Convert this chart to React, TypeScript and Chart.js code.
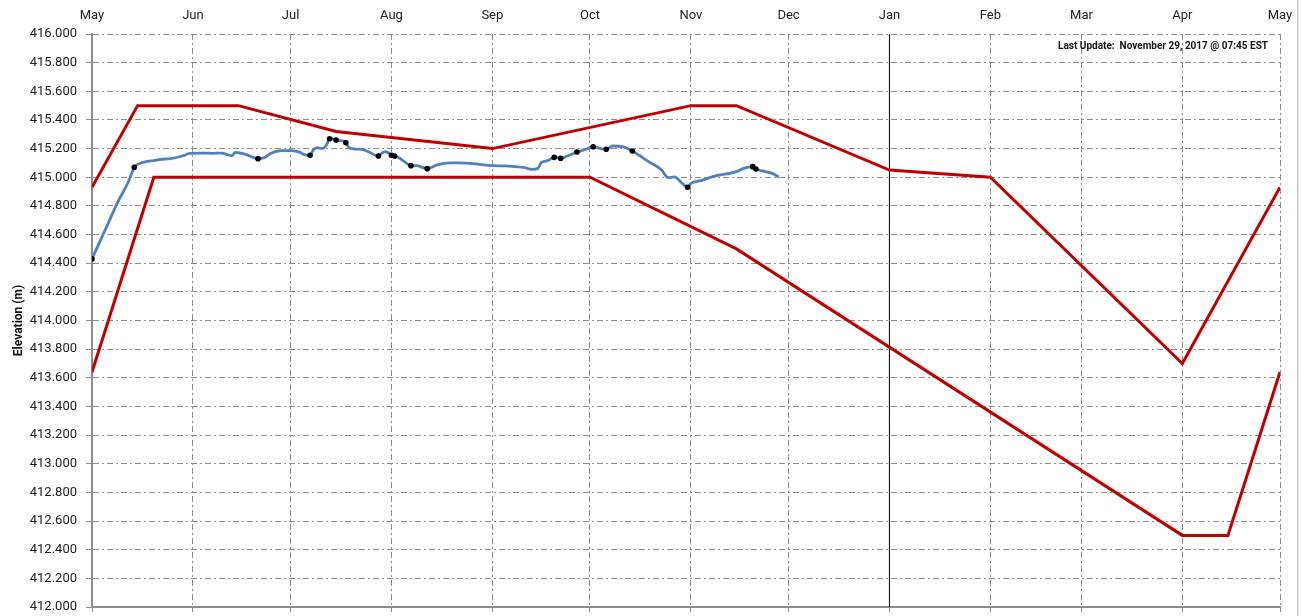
import React, { useEffect, useRef } from 'react';
import { Chart, registerables } from 'chart.js';

Chart.register(...registerables);

// Days counted from May 1, 2017
const monthTickDays = [0, 31, 61, 92, 123, 153, 184, 214, 245, 276, 304, 335, 365];
const monthTickLabels = ['May', 'Jun', 'Jul', 'Aug', 'Sep', 'Oct', 'Nov', 'Dec', 'Jan', 'Feb', 'Mar', 'Apr', 'May'];

const upperRuleDays = [0, 14, 45, 75, 123, 184, 198, 245, 276, 335, 365];
const upperRuleValues = [414.93, 415.5, 415.5, 415.32, 415.2, 415.5, 415.5, 415.05, 415.0, 413.7, 414.93];

const lowerRuleDays = [0, 19, 153, 198, 335, 349, 365];
const lowerRuleValues = [413.64, 415.0, 415.0, 414.5, 412.5, 412.5, 413.64];

const levelDays = [
  0, 4, 8, 11, 13, 14, 17, 19, 21, 24, 28, 30, 34, 37, 40, 41, 43, 44, 47, 49,
  51, 53, 55, 58, 61, 64, 65, 67, 68, 69, 71, 72, 73, 74, 75, 77, 78, 79, 81, 83,
  85, 88, 89, 90, 91, 92, 93, 94, 96, 98, 100, 101, 103, 106, 110, 113, 116, 119, 123, 127,
  130, 133, 135, 137, 138, 140, 142, 144, 146, 149, 152, 154, 156, 158, 160, 163, 166, 168, 171, 175,
  177, 179, 181, 183, 184, 187, 190, 193, 196, 198, 200, 203, 204, 206, 209, 211,
];
const levelValues = [
  414.43, 414.63, 414.83, 414.96, 415.07, 415.09, 415.11, 415.116, 415.125, 415.13,
  415.15, 415.167, 415.169, 415.167, 415.169, 415.162, 415.15, 415.174, 415.162, 415.143,
  415.13, 415.137, 415.167, 415.186, 415.186, 415.174, 415.16, 415.153, 415.19, 415.206,
  415.202, 415.225, 415.269, 415.267, 415.26, 415.253, 415.241, 415.206, 415.197, 415.195,
  415.178, 415.148, 415.167, 415.178, 415.171, 415.153, 415.148, 415.139, 415.109, 415.081,
  415.081, 415.072, 415.06, 415.086, 415.1, 415.1, 415.097, 415.09, 415.081, 415.079,
  415.074, 415.067, 415.055, 415.062, 415.102, 415.116, 415.139, 415.132, 415.148, 415.176,
  415.197, 415.213, 415.202, 415.195, 415.218, 415.213, 415.183, 415.155, 415.109, 415.051,
  414.997, 415.002, 414.965, 414.93, 414.957, 414.976, 414.999, 415.016, 415.027, 415.039,
  415.06, 415.074, 415.058, 415.044, 415.027, 415.002,
];
const markerDays = [0, 13, 51, 67, 73, 75, 78, 88, 92, 93, 98, 103, 142, 144, 149, 154, 158, 166, 183, 203, 204];

const yearMarkDay = 245;
const yMin = 412;
const yMax = 416;
const yStep = 0.2;
const yTitle = 'Elevation (m)';
const lastUpdateText = 'Last Update:  November 29, 2017 @ 07:45 EST';

const FONT = 'Roboto, "Noto Sans", sans-serif';
const GRID = '#8c8c8c';
const DASH = [6, 3, 2, 3];

export default function App() {
  const ref = useRef<HTMLCanvasElement>(null);

  useEffect(() => {
    if (!ref.current) return;
    const setMonthTicks = (scale: any) => {
      scale.ticks = monthTickDays.map((v) => ({ value: v }));
    };
    const noOverflow = (s: any) => {
      s.paddingLeft = 0;
      s.paddingRight = 0;
      s.paddingTop = 0;
      s.paddingBottom = 0;
    };
    const overlay = {
      id: 'overlay',
      afterDraw(chart: any) {
        const { ctx, chartArea } = chart;
        ctx.save();
        ctx.font = `bold 10px ${FONT}`;
        ctx.fillStyle = '#111';
        ctx.textAlign = 'right';
        ctx.textBaseline = 'middle';
        ctx.fillText(lastUpdateText, chartArea.right - 12, chartArea.top + 12);
        ctx.fillStyle = '#c8c8c8';
        ctx.fillRect(1297, 0, 1.5, chart.height);
        ctx.restore();
      },
    };
    const chart = new Chart(ref.current, {
      type: 'line',
      data: {
        datasets: [
          {
            label: 'Year',
            data: [{ x: yearMarkDay, y: yMin }, { x: yearMarkDay, y: yMax }],
            borderColor: '#000',
            borderWidth: 1,
            pointRadius: 0,
            order: 5,
          },
          {
            label: 'Upper',
            data: upperRuleDays.map((d, i) => ({ x: d, y: upperRuleValues[i] })),
            borderColor: '#C00000',
            borderWidth: 3,
            pointRadius: 0,
            order: 3,
          },
          {
            label: 'Lower',
            data: lowerRuleDays.map((d, i) => ({ x: d, y: lowerRuleValues[i] })),
            borderColor: '#C00000',
            borderWidth: 3,
            pointRadius: 0,
            order: 3,
          },
          {
            label: 'Level',
            data: levelDays.map((d, i) => ({ x: d, y: levelValues[i] })),
            borderColor: '#4F81BD',
            borderWidth: 2.8,
            cubicInterpolationMode: 'monotone',
            pointRadius: (c: any) => (markerDays.includes(levelDays[c.dataIndex]) ? 2.8 : 0),
            pointBackgroundColor: '#000',
            pointBorderColor: '#000',
            pointBorderWidth: 0,
            order: 1,
          },
        ],
      },
      options: {
        animation: false,
        responsive: false,
        maintainAspectRatio: false,
        parsing: true,
        layout: { padding: { left: 0, right: 21, top: 0, bottom: 0 } },
        plugins: { legend: { display: false }, tooltip: { enabled: false } },
        scales: {
          x: {
            type: 'linear',
            position: 'top',
            min: 0,
            max: 365,
            afterBuildTicks: setMonthTicks,
            afterFit: (s: any) => { s.height = 34; noOverflow(s); },
            ticks: {
              autoSkip: false,
              maxRotation: 0,
              padding: 10,
              color: '#222',
              font: { family: FONT, size: 13 },
              callback: (_v: any, i: number) => monthTickLabels[i],
            },
            grid: { color: GRID, lineWidth: 1, drawTicks: false },
            border: { display: false, dash: DASH },
          },
          x2: {
            type: 'linear',
            position: 'bottom',
            min: 0,
            max: 365,
            afterBuildTicks: setMonthTicks,
            afterFit: (s: any) => { s.height = 9; noOverflow(s); },
            ticks: { display: false },
            grid: { color: GRID, drawOnChartArea: false, tickLength: 5 },
            border: { display: true, color: '#8c8c8c', width: 2 },
          },
          y: {
            type: 'linear',
            min: yMin,
            max: yMax,
            afterFit: (s: any) => { s.width = 92; noOverflow(s); },
            ticks: {
              stepSize: yStep,
              padding: 9,
              color: '#222',
              font: { family: FONT, size: 13 },
              callback: (v: any) => Number(v).toFixed(3),
            },
            grid: { color: GRID, lineWidth: 1, tickLength: 6 },
            border: { display: true, color: '#8c8c8c', width: 2, dash: DASH },
            title: {
              display: true,
              text: yTitle,
              color: '#111',
              font: { family: FONT, size: 12, weight: 'bold' },
              padding: { top: 12, bottom: 0 },
            },
          },
        },
      },
      plugins: [overlay],
    } as any);
    return () => chart.destroy();
  }, []);

  return (
    <div style={{ position: 'absolute', left: 0, top: 0, width: 1301, height: 616, background: '#fff' }}>
      <canvas ref={ref} width={1301} height={616} style={{ display: 'block' }} />
    </div>
  );
}
